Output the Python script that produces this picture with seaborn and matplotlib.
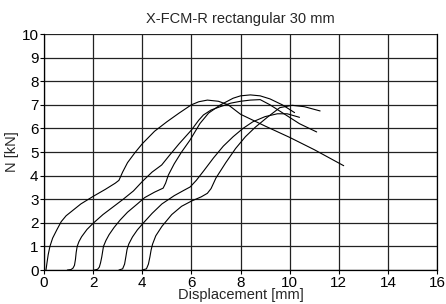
import pandas as pd
import matplotlib
matplotlib.use("Agg")
import matplotlib.pyplot as plt
import seaborn as sns

# ------------------------------------------------------------
# Data (displacement [mm], N [kN])
# ------------------------------------------------------------
x1 = [0.08, 0.12, 0.17, 0.24, 0.35, 0.52, 0.7, 0.9, 1.2, 1.5, 2.0, 2.5, 2.9, 3.05, 3.2, 3.4,
      3.7, 4.0, 4.5, 5.0, 5.5, 6.0, 6.3, 6.65, 7.1, 7.5, 8.0, 8.5, 9.0, 10.0, 11.0, 12.2]
y1 = [0, 0.3, 0.65, 1.0, 1.35, 1.7, 2.05, 2.3, 2.55, 2.8, 3.12, 3.42, 3.68, 3.8, 4.15, 4.55,
      4.97, 5.35, 5.88, 6.28, 6.65, 7.0, 7.13, 7.2, 7.15, 7.0, 6.6, 6.35, 6.1, 5.62, 5.1, 4.42]

x2 = [0.95, 1.1, 1.18, 1.24, 1.28, 1.31, 1.35, 1.42, 1.53, 1.75, 2.0, 2.4, 2.82, 3.2, 3.64,
      4.0, 4.4, 4.79, 5.1, 5.5, 6.0, 6.3, 6.49, 6.8, 7.17, 7.6, 8.0, 8.4, 8.8, 9.2, 9.8,
      10.4, 11.1]
y2 = [0, 0.02, 0.08, 0.2, 0.45, 0.75, 1.0, 1.2, 1.41, 1.72, 1.98, 2.35, 2.68, 2.98, 3.35,
      3.75, 4.15, 4.45, 4.85, 5.35, 5.93, 6.35, 6.57, 6.78, 6.92, 7.07, 7.15, 7.2, 7.22,
      7.0, 6.6, 6.2, 5.85]

x3 = [2.05, 2.18, 2.25, 2.3, 2.35, 2.42, 2.52, 2.65, 2.85, 3.1, 3.4, 3.8, 4.1, 4.5, 4.85,
      4.95, 5.06, 5.3, 5.6, 5.94, 6.35, 6.7, 7.17, 7.7, 8.0, 8.4, 8.8, 9.2, 9.7, 10.2]
y3 = [0, 0.03, 0.12, 0.3, 0.55, 1.0, 1.25, 1.5, 1.8, 2.12, 2.45, 2.8, 3.07, 3.3, 3.47,
      3.68, 4.02, 4.5, 5.0, 5.5, 6.21, 6.65, 6.99, 7.28, 7.38, 7.42, 7.38, 7.25, 7.0, 6.67]

x4 = [3.05, 3.2, 3.28, 3.33, 3.38, 3.45, 3.6, 3.8, 4.05, 4.4, 4.8, 5.3, 5.7, 5.95, 6.2,
      6.5, 6.9, 7.3, 7.7, 8.1, 8.5, 9.0, 9.5, 9.9, 10.4]
y4 = [0, 0.05, 0.25, 0.55, 0.87, 1.1, 1.4, 1.7, 2.0, 2.4, 2.8, 3.15, 3.38, 3.52, 3.8,
      4.2, 4.75, 5.25, 5.65, 6.0, 6.28, 6.5, 6.62, 6.62, 6.47]

x5 = [4.0, 4.17, 4.25, 4.31, 4.36, 4.42, 4.55, 4.8, 5.2, 5.6, 6.0, 6.4, 6.65, 6.8, 7.0,
      7.4, 7.8, 8.2, 8.6, 9.1, 9.6, 10.1, 10.6, 11.24]
y5 = [0, 0.05, 0.25, 0.55, 0.85, 1.1, 1.45, 1.85, 2.35, 2.7, 2.92, 3.1, 3.25, 3.45, 3.9,
      4.55, 5.15, 5.65, 6.05, 6.48, 6.88, 6.98, 6.92, 6.74]

curves = [(x1, y1), (x2, y2), (x3, y3), (x4, y4), (x5, y5)]

rows = []
for i, (xs, ys) in enumerate(curves):
    for k, (a, b) in enumerate(zip(xs, ys)):
        rows.append({"specimen": i + 1, "order": k, "disp": a, "force": b})
df = pd.DataFrame(rows)

# ------------------------------------------------------------
# Plot
# ------------------------------------------------------------
sns.set_style("ticks")
plt.rcParams["font.family"] = ["Liberation Sans", "DejaVu Sans"]

fig = plt.figure(figsize=(4.46, 3.04), dpi=100)
ax = fig.add_axes([0.0987, 0.1118, 0.8812, 0.7763])

sns.lineplot(data=df, x="disp", y="force", hue="specimen", units="specimen",
             estimator=None, sort=False, palette=["black"] * 5, linewidth=0.8,
             legend=False, ax=ax)

ax.set_xlim(0, 16)
ax.set_ylim(0, 10)
ax.set_xticks(range(0, 17, 2))
ax.set_yticks(range(0, 11, 1))
ax.grid(True, color="#222222", linewidth=0.9)
for s in ax.spines.values():
    s.set_color("black")
    s.set_linewidth(0.9)
ax.spines["top"].set_visible(False)
ax.tick_params(labelsize=11, length=3, width=0.8, pad=1, colors="black")

ax.set_title("X-FCM-R rectangular 30 mm", fontsize=10.5, pad=8)
ax.set_xlabel("Displacement [mm]", fontsize=10.5, labelpad=-1)
ax.set_ylabel("N [kN]", fontsize=10.5, labelpad=2)

fig.savefig("out.png", dpi=100)
